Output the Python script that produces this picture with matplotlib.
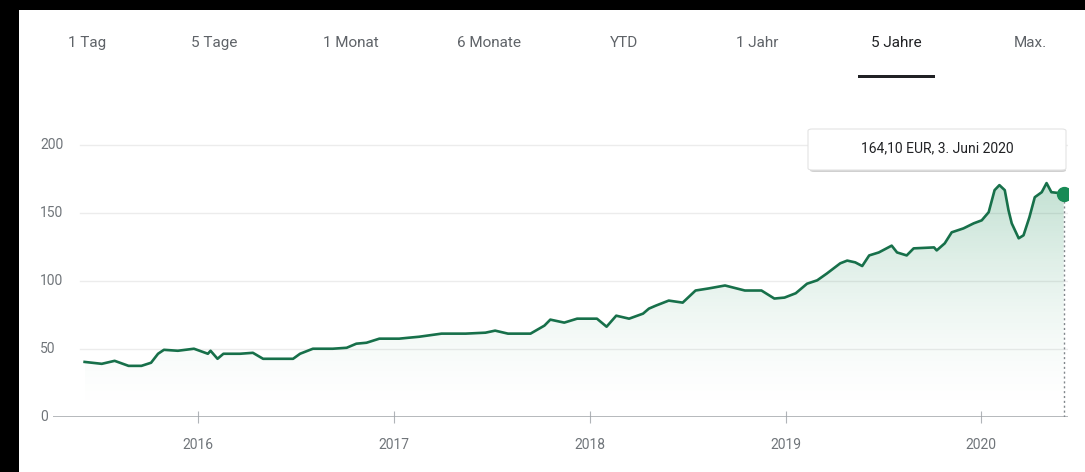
import matplotlib
matplotlib.use("Agg")
import matplotlib.pyplot as plt
import matplotlib.dates as mdates
from matplotlib.patches import Rectangle, FancyBboxPatch, Polygon
import numpy as np
import datetime as dt

plt.rcParams['font.family'] = ['Roboto', 'DejaVu Sans']

# --- data (EUR) ---
dates = [
    "2015-06-03", "2015-07-05", "2015-07-29", "2015-08-24", "2015-09-17", "2015-10-05",
    "2015-10-18", "2015-10-29", "2015-11-24", "2015-12-24", "2016-01-19", "2016-01-24",
    "2016-02-06", "2016-02-17", "2016-03-19", "2016-04-12", "2016-05-01", "2016-06-02",
    "2016-06-26", "2016-07-09", "2016-08-02", "2016-09-08", "2016-10-04", "2016-10-22",
    "2016-11-10", "2016-12-04", "2017-01-10", "2017-01-28", "2017-02-16", "2017-03-30",
    "2017-05-14", "2017-06-20", "2017-07-08", "2017-08-01", "2017-09-12", "2017-10-08",
    "2017-10-19", "2017-11-14", "2017-12-08", "2018-01-14", "2018-02-01", "2018-02-19",
    "2018-03-15", "2018-04-10", "2018-04-21", "2018-05-04", "2018-05-28", "2018-06-23",
    "2018-07-17", "2018-08-10", "2018-09-10", "2018-10-17", "2018-11-17", "2018-12-11",
    "2018-12-30", "2019-01-20", "2019-02-10", "2019-03-01", "2019-03-19", "2019-04-13",
    "2019-04-26", "2019-05-11", "2019-05-24", "2019-06-06", "2019-06-24", "2019-07-18",
    "2019-07-28", "2019-08-15", "2019-08-28", "2019-10-05", "2019-10-10", "2019-10-25",
    "2019-11-07", "2019-11-29", "2019-12-18", "2020-01-02", "2020-01-15", "2020-01-26",
    "2020-02-04", "2020-02-14", "2020-02-21", "2020-02-27", "2020-03-11", "2020-03-20",
    "2020-03-31", "2020-04-10", "2020-04-23", "2020-05-02", "2020-05-11", "2020-05-27",
    "2020-06-03",
]
prices = [
    40.5, 39.1, 41.3, 37.6, 37.6, 39.9,
    46.5, 49.4, 48.7, 50.2, 46.5, 48.7,
    42.8, 46.5, 46.5, 47.2, 42.8, 42.8,
    42.8, 46.5, 50.2, 50.2, 50.9, 53.9,
    54.6, 57.6, 57.6, 58.3, 59.0, 61.3,
    61.3, 62.0, 63.5, 61.3, 61.3, 67.2,
    71.6, 69.4, 72.3, 72.3, 66.4, 74.5,
    72.3, 76.0, 79.7, 81.9, 85.6, 84.1,
    93.0, 94.5, 96.7, 93.0, 93.0, 87.1,
    87.8, 91.0, 98.0, 100.5, 105.5, 113.0,
    115.0, 113.7, 111.0, 118.8, 121.0, 126.0,
    121.0, 118.8, 124.0, 124.7, 122.5, 127.7,
    135.8, 138.7, 142.4, 144.6, 150.6, 166.8,
    170.5, 166.8, 152.0, 142.4, 131.4, 133.6,
    146.9, 161.6, 165.3, 172.0, 165.3, 164.6,
    164.1,
]
tabs = ["1 Tag", "5 Tage", "1 Monat", "6 Monate", "YTD", "1 Jahr", "5 Jahre", "Max."]
active_tab = "5 Jahre"
y_ticks = [0, 50, 100, 150, 200]
year_ticks = [2016, 2017, 2018, 2019, 2020]
tooltip = "164,10 EUR, 3. Juni 2020"

x = np.array([mdates.date2num(dt.datetime.strptime(d, "%Y-%m-%d")) for d in dates])
y = np.array(prices)

W, H = 1085, 472
fig = plt.figure(figsize=(W / 100, H / 100), dpi=100, facecolor="white")

def fx(px):
    return px / W

def fy(py):
    return 1 - py / H

# black border (screenshot edge) left and top
fig.patches.append(Rectangle((0, 0), 19 / W, 1, transform=fig.transFigure,
                             facecolor="black", edgecolor="none", zorder=20))
fig.patches.append(Rectangle((0, fy(10)), 1, 10 / H, transform=fig.transFigure,
                             facecolor="black", edgecolor="none", zorder=20))

# tabs
tab_x = [87, 214, 351, 489, 624, 757, 896, 1030]
for lbl, tx in zip(tabs, tab_x):
    col = "#202124" if lbl == active_tab else "#5f6368"
    fig.text(fx(tx), fy(43), lbl, ha="center", va="center", fontsize=11, color=col)
fig.patches.append(Rectangle((fx(858), fy(78)), (935 - 858) / W, 3 / H,
                             transform=fig.transFigure, facecolor="#202124",
                             edgecolor="none"))

# plot axes
ytop = 215
base_px = 417
ax = fig.add_axes([fx(53), fy(base_px), (1068 - 53) / W, (ytop * 1.36) / H])
ax.set_facecolor("none")
xmin = mdates.date2num(dt.datetime(2015, 4, 5))
xmax = mdates.date2num(dt.datetime(2020, 6, 11))
for s in ax.spines.values():
    s.set_visible(False)

for v in y_ticks[1:]:
    ax.axhline(v, xmin=0.027, xmax=1, color="#ececec", lw=1, zorder=1)
for v in y_ticks:
    ax.text(-0.0128, v, str(v), transform=ax.get_yaxis_transform(),
            ha="left", va="center", fontsize=10, color="#70757a")
ax.axhline(0, color="#a0a4a8", lw=1.8, zorder=3)
ax.set_yticks([])

# gradient fill under the line
alpha = np.linspace(0, 1, 256) ** 1.6 * 0.28
rgba = np.zeros((256, 1, 4))
rgba[:, 0, 0] = 0.12
rgba[:, 0, 1] = 0.56
rgba[:, 0, 2] = 0.35
rgba[:, 0, 3] = alpha
im = ax.imshow(rgba, extent=[x[0], x[-1], 0, 175], origin="lower",
               aspect="auto", zorder=2)
poly = Polygon(np.column_stack([np.r_[x[0], x, x[-1]], np.r_[0, y, 0]]),
               closed=True, transform=ax.transData, facecolor="none",
               edgecolor="none")
ax.add_patch(poly)
im.set_clip_path(poly)

ax.plot(x, y, color="#17704a", lw=1.9, zorder=4, solid_joinstyle="round")

# hover marker
ax.plot([x[-1], x[-1]], [0, y[-1]], color="#80868b", lw=1, ls=(0, (1.5, 2)), zorder=3)
ax.plot(x[-1], y[-1], "o", color="#178a55", markersize=10, zorder=5,
        markeredgecolor="#178a55")

ax.set_xlim(xmin, xmax)
ax.set_ylim(0, ytop)
ax.set_xticks([mdates.date2num(dt.datetime(yr, 1, 1)) for yr in year_ticks])
ax.set_xticklabels([str(yr) for yr in year_ticks])
ax.tick_params(axis="x", length=8, direction="inout", color="#b0b4b8",
               labelsize=10, labelcolor="#70757a", pad=11)

# tooltip
fig.patches.append(FancyBboxPatch((fx(810), fy(172)), (1066 - 810) / W, 41 / H,
                                  boxstyle="round,pad=0,rounding_size=0.004",
                                  transform=fig.transFigure, facecolor="#d0d0d0",
                                  edgecolor="none", zorder=5))
fig.patches.append(FancyBboxPatch((fx(808), fy(170)), (1066 - 808) / W, 41 / H,
                                  boxstyle="round,pad=0,rounding_size=0.004",
                                  transform=fig.transFigure, facecolor="white",
                                  edgecolor="#e3e3e3", lw=0.8, zorder=6))
fig.text(fx(937), fy(148), tooltip, ha="center", va="center", fontsize=10,
         color="#202124", zorder=7)

fig.savefig("out.png", dpi=100, facecolor=fig.get_facecolor())
